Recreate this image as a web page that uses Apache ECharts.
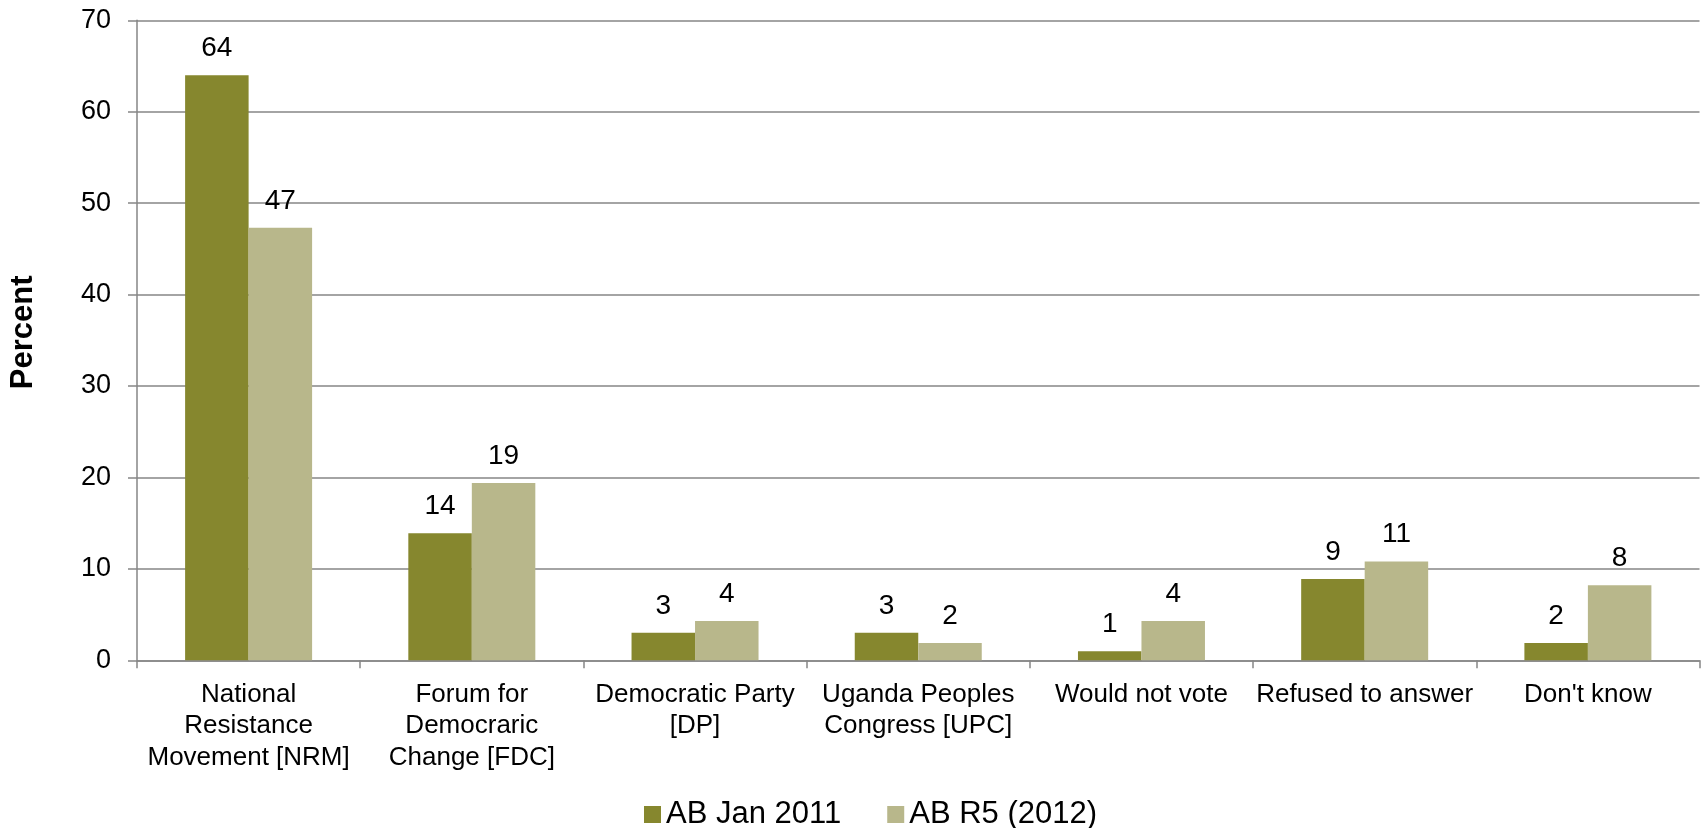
<!DOCTYPE html>
<html>
<head>
<meta charset="utf-8">
<script src="https://cdn.jsdelivr.net/npm/echarts@6/dist/echarts.min.js"></script>
<style>
html,body{margin:0;padding:0;background:#fff;}
#chart{width:1703px;height:828px;}
</style>
</head>
<body>
<div id="chart"></div>
<script>
const categories = [
  "National\nResistance\nMovement [NRM]",
  "Forum for\nDemocraric\nChange [FDC]",
  "Democratic Party\n[DP]",
  "Uganda Peoples\nCongress [UPC]",
  "Would not vote",
  "Refused to answer",
  "Don't know"
];
const seriesNames = ["AB Jan 2011", "AB R5 (2012)"];
const jan2011 = [64, 13.9, 3, 3, 1, 8.9, 1.9];
const r5_2012 = [47.3, 19.4, 4.3, 1.9, 4.3, 10.8, 8.2];
const yTicks = { min: 0, max: 70, interval: 10 };

const FONT = "Liberation Sans";
const axisGray = "#868686";
const colors = ["#86872E", "#B8B78B"];

const chart = echarts.init(document.getElementById('chart'), null, { renderer: 'canvas' });

const labelCfg = {
  show: true,
  position: 'top',
  distance: 13,
  color: '#000',
  fontFamily: FONT,
  fontSize: 28,
  formatter: p => Math.round(p.value)
};

chart.setOption({
  animation: false,
  backgroundColor: '#fff',
  textStyle: { fontFamily: FONT },
  grid: { left: 137, right: 3.5, top: 20.3, bottom: 167.7, containLabel: false, outerBoundsMode: 'none' },
  legend: {
    data: seriesNames,
    left: 639,
    top: 794,
    itemWidth: 17,
    itemHeight: 17,
    itemGap: 46,
    icon: 'rect',
    textStyle: { fontFamily: FONT, fontSize: 31, color: '#000', lineHeight: 31 }
  },
  xAxis: {
    type: 'category',
    data: categories,
    axisLine: { lineStyle: { color: axisGray, width: 1.5 } },
    axisTick: { show: true, length: 8, interval: 0, lineStyle: { color: axisGray, width: 1.5 } },
    axisLabel: {
      interval: 0,
      margin: 18.5,
      color: '#000',
      fontFamily: FONT,
      fontSize: 26,
      lineHeight: 31.5
    }
  },
  yAxis: {
    type: 'value',
    min: yTicks.min,
    max: yTicks.max,
    interval: yTicks.interval,
    name: 'Percent',
    nameLocation: 'middle',
    nameRotate: 90,
    nameGap: 98,
    nameTextStyle: { fontFamily: FONT, fontSize: 31, fontWeight: 'bold', color: '#000', padding: [0, 0, 0, 16] },
    axisLine: { show: true, lineStyle: { color: axisGray, width: 1.5 } },
    axisTick: { show: true, length: 9, lineStyle: { color: axisGray, width: 1.5 } },
    splitLine: { show: true, lineStyle: { color: axisGray, width: 1.5 } },
    axisLabel: {
      margin: 26,
      color: '#000',
      fontFamily: FONT,
      fontSize: 27
    }
  },
  series: [
    {
      name: seriesNames[0],
      type: 'bar',
      data: jan2011,
      barWidth: 63.5,
      barGap: '0%',
      itemStyle: { color: colors[0] },
      label: labelCfg
    },
    {
      name: seriesNames[1],
      type: 'bar',
      data: r5_2012,
      barWidth: 63.5,
      barGap: '0%',
      itemStyle: { color: colors[1] },
      label: labelCfg
    }
  ]
});
</script>
</body>
</html>
